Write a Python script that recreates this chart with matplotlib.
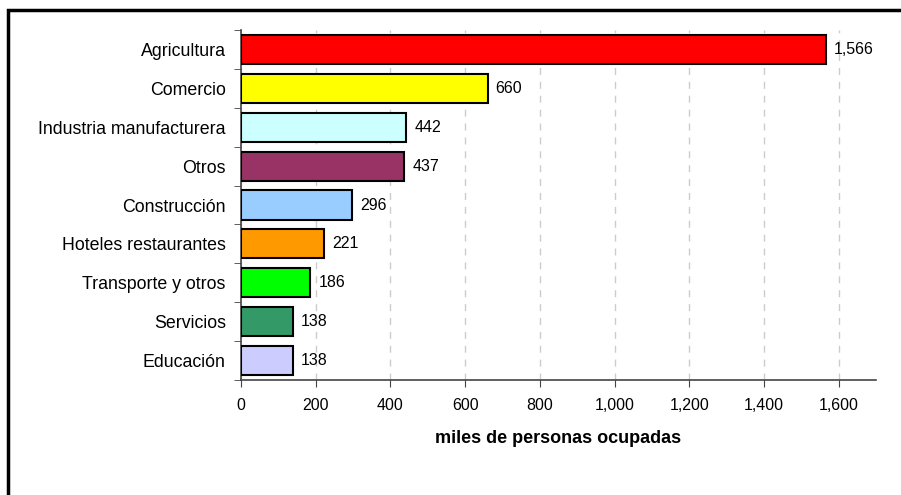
import matplotlib.pyplot as plt
import matplotlib.patches as mpatches
import numpy as np

plt.rcParams['font.family'] = ['Liberation Sans', 'DejaVu Sans']

# sectors, top to bottom
sectores = ['Agricultura', 'Comercio', 'Industria manufacturera', 'Otros',
            'Construcción', 'Hoteles restaurantes', 'Transporte y otros',
            'Servicios', 'Educación']
ocupados = [1566, 660, 442, 437, 296, 221, 186, 138, 138]
colores = ['#FF0000', '#FFFF00', '#CCFFFF', '#993366', '#99CCFF',
           '#FF9900', '#00FF00', '#339966', '#CCCCFF']
xticks = [0, 200, 400, 600, 800, 1000, 1200, 1400, 1600]

fig = plt.figure(figsize=(9.01, 4.95), dpi=100)
ax = fig.add_axes([241 / 901, 1 - 380 / 495, 635 / 901, 350 / 495])

# outer frame (right and bottom edges fall outside the picture)
fig.patches.append(mpatches.Rectangle((8 / 901, -0.1), 1.0, 1 - 10 / 495 + 0.1,
                                      transform=fig.transFigure, fill=False,
                                      edgecolor='black', linewidth=2.5))

y = np.arange(len(sectores))
ax.barh(y, ocupados, height=0.75, color=colores, edgecolor='black',
        linewidth=1.5, zorder=3)
for yi, v in zip(y, ocupados):
    ax.text(v + 22, yi, f'{v:,}', va='center', ha='left', fontsize=11.5)

ax.set_ylim(len(sectores) - 0.5, -0.5)
ax.set_xlim(0, 1700)
ax.set_yticks(y)
ax.set_yticklabels(sectores, fontsize=12.8)
ax.set_yticks(np.arange(len(sectores) + 1) - 0.5, minor=True)
ax.tick_params(axis='y', which='major', length=0, pad=11)
ax.tick_params(axis='y', which='minor', length=5, color='#444444')
ax.set_xticks(xticks)
ax.set_xticklabels([f'{t:,}' for t in xticks], fontsize=11.5)
ax.tick_params(axis='x', length=5, color='#444444', pad=8)

ax.grid(axis='x', linestyle=(0, (5, 5)), color='#CCCCCC', linewidth=1, zorder=0)
for s in ['top', 'right']:
    ax.spines[s].set_visible(False)
ax.spines['left'].set_color('#444444')
ax.spines['bottom'].set_color('#444444')
ax.spines['left'].set_linewidth(1.2)
ax.spines['bottom'].set_linewidth(1.2)

ax.set_xlabel('miles de personas ocupadas', fontsize=13, fontweight='bold',
              labelpad=12)

fig.savefig('out.png', dpi=100)
